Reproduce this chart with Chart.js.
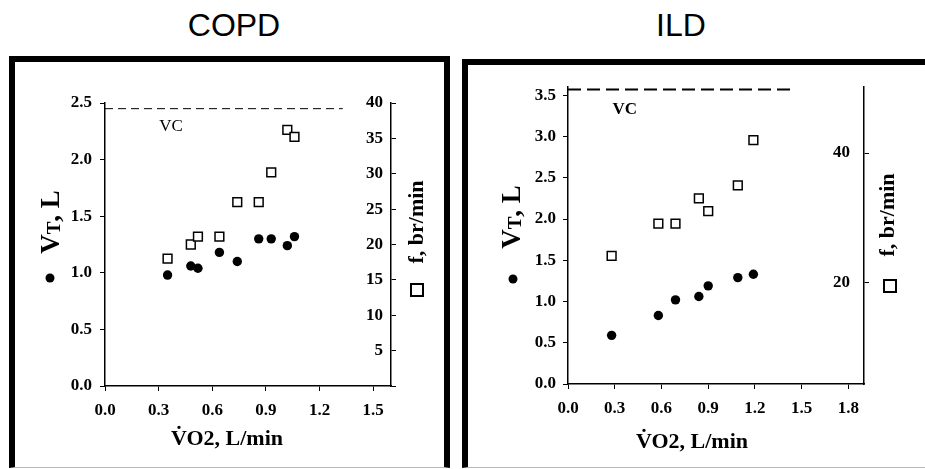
<!DOCTYPE html>
<html>
<head>
<meta charset="utf-8">
<script src="https://cdn.jsdelivr.net/npm/chart.js@4.4.0/dist/chart.umd.min.js"></script>
<style>
  body { margin: 0; width: 925px; height: 469px; background: #fff; position: relative; overflow: hidden; }
  .head { position: absolute; top: 9px; font: 32px/32px "Liberation Sans", Arial, sans-serif; color: #000; transform: translateX(-50%); }
  .box { position: absolute; box-sizing: border-box; border: 6px solid #000; border-bottom: 1px solid #bbb; }
  .box canvas { position: absolute; left: 0; top: 0; }
</style>
</head>
<body>
<div class="head" style="left:234px">COPD</div>
<div class="head" style="left:681px">ILD</div>
<div class="box" style="left:9px; top:56px; width:441px; height:412px;">
  <canvas id="copd" width="429" height="405"></canvas>
</div>
<div class="box" style="left:462px; top:59px; width:470px; height:409px;">
  <canvas id="ild" width="457" height="402"></canvas>
</div>
<script>
// COPD panel
const copdVO2 = [0.35, 0.48, 0.52, 0.64, 0.74, 0.86, 0.93, 1.02, 1.06];
const copdVT = [0.98, 1.06, 1.04, 1.18, 1.10, 1.30, 1.30, 1.24, 1.32];
const copdFreq = [18.0, 20.0, 21.1, 21.1, 26.0, 26.0, 30.2, 36.2, 35.2];
const copdVC = 2.45;
const copdVCEnd = 1.33;

// ILD panel
const ildVO2 = [0.28, 0.58, 0.69, 0.84, 0.90, 1.09, 1.19];
const ildVT = [0.59, 0.83, 1.02, 1.06, 1.19, 1.29, 1.33];
const ildFreq = [24.1, 29.1, 29.1, 33.0, 31.0, 35.0, 42.0];
const ildVC = 3.57;
const ildVCEnd = 1.44;
const ildFreqTicks = [20, 40];

const serif = '"Liberation Serif", "Times New Roman", serif';
const tickFont = { family: serif, size: 17, weight: 'bold' };

function pts(xs, ys) {
    return xs.map((x, i) => ({ x: x, y: ys[i] }));
}

// draws VC label, axis titles and the marker keys
const panelText = {
    id: 'panelText',
    afterDraw(chart, args, o) {
        const ctx = chart.ctx;
        const sx = chart.scales.x, sy = chart.scales.y;
        ctx.save();
        ctx.fillStyle = '#000';
        ctx.strokeStyle = '#000';
        ctx.textAlign = 'center';
        ctx.textBaseline = 'middle';

        ctx.font = o.vcFont;
        ctx.fillText('VC', sx.getPixelForValue(o.vcAt[0]), sy.getPixelForValue(o.vcAt[1]));

        ctx.font = 'bold 22px ' + serif;
        ctx.fillText('V\u0307O2, L/min', o.xTitle[0], o.xTitle[1]);

        // left title: V + small T + ", L"
        ctx.save();
        ctx.translate(o.yTitle[0], o.yTitle[1]);
        ctx.rotate(-Math.PI / 2);
        const runs = [['V', 27, 0], ['T', 19, 1], [', L', 27, 0]];
        let total = 0;
        runs.forEach(r => { ctx.font = 'bold ' + r[1] + 'px ' + serif; total += ctx.measureText(r[0]).width; });
        let cx = -total / 2;
        ctx.textAlign = 'left';
        ctx.textBaseline = 'alphabetic';
        runs.forEach(r => {
            ctx.font = 'bold ' + r[1] + 'px ' + serif;
            ctx.fillText(r[0], cx, 9 + r[2]);
            cx += ctx.measureText(r[0]).width;
        });
        ctx.restore();

        ctx.beginPath();
        ctx.arc(o.dot[0], o.dot[1], 4.5, 0, Math.PI * 2);
        ctx.fill();

        // right title
        ctx.save();
        ctx.translate(o.fTitle[0], o.fTitle[1]);
        ctx.rotate(-Math.PI / 2);
        ctx.font = 'bold 22px ' + serif;
        ctx.fillText('f, br/min', 0, 0);
        ctx.restore();

        ctx.lineWidth = 2;
        ctx.strokeRect(o.box[0] - 6, o.box[1] - 6, 12, 12);
        ctx.restore();
    }
};

function axisBase() {
    return {
        type: 'linear',
        grid: { drawOnChartArea: false, drawTicks: true, tickLength: 5, color: '#000', lineWidth: 1 },
        border: { display: true, color: '#000', width: 1.5 },
        ticks: { font: tickFont, color: '#000', autoSkip: false, maxRotation: 0, includeBounds: false }
    };
}

function makePanel(id, p) {
    const x = axisBase();
    x.position = 'bottom';
    x.min = 0; x.max = p.xMax;
    x.ticks.stepSize = 0.3;
    x.ticks.padding = 9;
    x.ticks.callback = v => v.toFixed(1);
    x.afterFit = s => { s.height = p.xHeight; };

    const y = axisBase();
    y.position = 'left';
    y.min = 0; y.max = p.yMax;
    y.ticks.stepSize = 0.5;
    y.ticks.padding = p.yPad;
    y.ticks.callback = v => v.toFixed(1);
    y.afterFit = s => { s.width = p.yWidth; };

    const y2 = axisBase();
    y2.position = 'right';
    y2.min = p.fMin; y2.max = p.fMax;
    y2.ticks.mirror = true;
    y2.ticks.padding = p.fPad;
    y2.ticks.callback = v => (v === 0 ? '' : v);
    if (p.fStep) y2.ticks.stepSize = p.fStep;
    if (p.fTicks) y2.afterBuildTicks = s => { s.ticks = p.fTicks.map(v => ({ value: v })); };
    y2.afterFit = s => { s.width = p.fWidth; };

    return new Chart(document.getElementById(id), {
        type: 'scatter',
        data: {
            datasets: [{
                label: 'VC',
                type: 'line',
                data: [{ x: 0, y: p.vc }, { x: p.vcEnd, y: p.vc }],
                borderColor: '#000',
                borderWidth: p.vcWidth,
                borderDash: p.vcDash,
                pointRadius: 0,
                yAxisID: 'y'
            }, {
                label: 'f',
                data: pts(p.vo2, p.freq),
                pointStyle: 'rect',
                pointRadius: 6.2,
                borderWidth: 1.5,
                borderColor: '#000',
                backgroundColor: '#fff',
                yAxisID: 'y2'
            }, {
                label: 'VT',
                data: pts(p.vo2, p.vt),
                pointStyle: 'circle',
                pointRadius: 4.7,
                borderWidth: 0,
                backgroundColor: '#000',
                yAxisID: 'y'
            }]
        },
        options: {
            responsive: false,
            animation: false,
            devicePixelRatio: 1,
            layout: { padding: { top: p.top, left: 0, right: 0, bottom: 0 } },
            scales: { x: x, y: y, y2: y2 },
            plugins: {
                legend: { display: false },
                tooltip: { enabled: false },
                panelText: p.text
            }
        },
        plugins: [panelText]
    });
}

makePanel('copd', {
    vo2: copdVO2, vt: copdVT, freq: copdFreq,
    vc: copdVC, vcEnd: copdVCEnd, vcWidth: 1, vcDash: [8, 5],
    xMax: 1.6, yMax: 2.5, fMin: 0, fMax: 40, fStep: 5,
    top: 41, xHeight: 81, yWidth: 90, fWidth: 53, yPad: 8, fPad: -8,
    text: {
        vcAt: [0.37, 2.29], vcFont: '17px ' + serif,
        xTitle: [212, 377], yTitle: [35, 160], dot: [35, 216],
        fTitle: [402, 160], box: [402, 228]
    }
});

makePanel('ild', {
    vo2: ildVO2, vt: ildVT, freq: ildFreq,
    vc: ildVC, vcEnd: ildVCEnd, vcWidth: 2, vcDash: [13, 6],
    xMax: 1.9, yMax: 3.6, fMin: 4.3, fMax: 50.2, fTicks: ildFreqTicks,
    top: 22, xHeight: 83, yWidth: 100, fWidth: 61, yPad: 7, fPad: -14,
    text: {
        vcAt: [0.365, 3.33], vcFont: 'bold 17px ' + serif,
        xTitle: [224, 377], yTitle: [43, 152], dot: [45, 214],
        fTitle: [420, 150], box: [422, 221]
    }
});
</script>
</body>
</html>
